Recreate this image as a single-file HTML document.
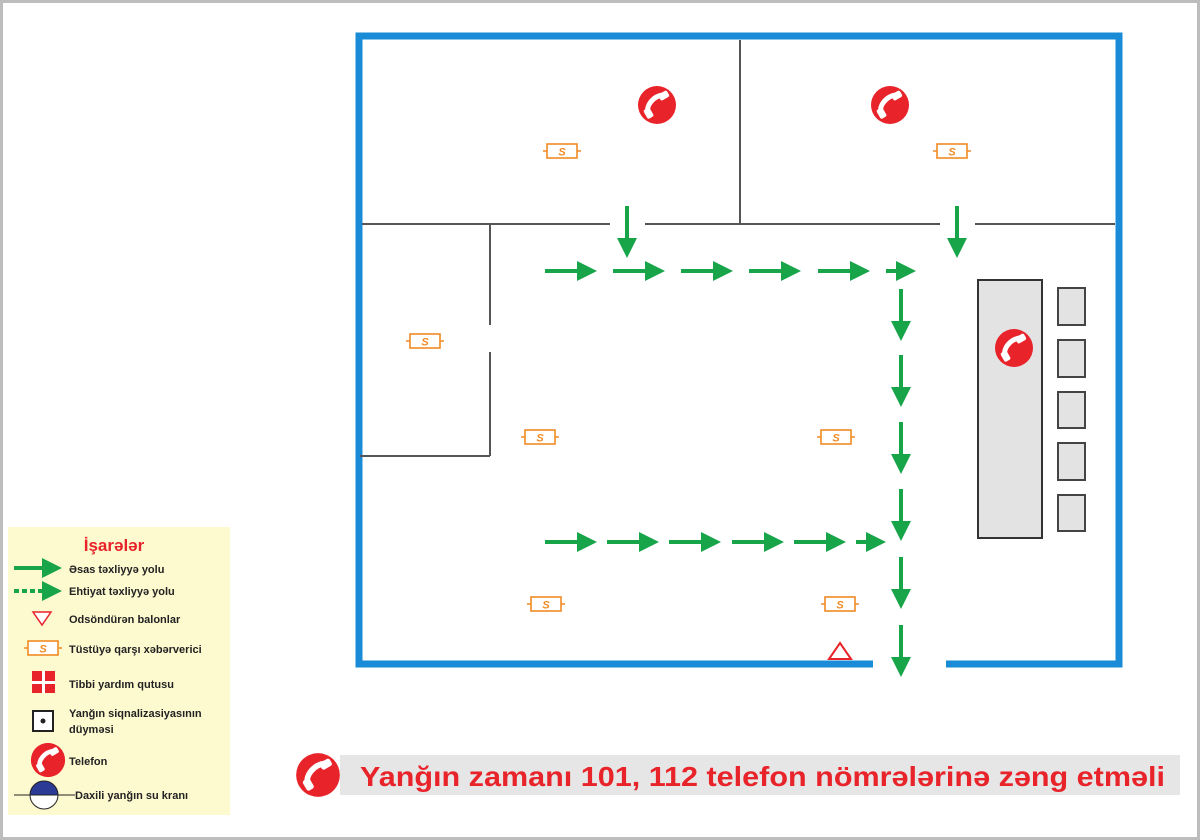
<!DOCTYPE html>
<html><head><meta charset="utf-8"><style>
html,body{margin:0;padding:0;background:#fff}
svg{display:block}
text{font-family:"Liberation Sans",Arial,sans-serif;font-weight:bold}
</style></head><body>
<svg width="1200" height="840" viewBox="0 0 1200 840" xmlns="http://www.w3.org/2000/svg">
<defs>
<g id="ph"><circle r="19" fill="#e8232a"/><path d="M-9,7 C-11,1 -4,-9 6,-10" stroke="#fff" stroke-width="5" fill="none" stroke-linecap="round"/><rect x="-12" y="3" width="7" height="10" rx="2" fill="#fff" transform="rotate(-30 -8 8)"/><rect x="2" y="-13" width="10" height="7" rx="2" fill="#fff" transform="rotate(-30 7 -9)"/></g>
<g id="sd"><line x1="-19" y1="0" x2="19" y2="0" stroke="#f08a24" stroke-width="1.5"/><rect x="-15" y="-7" width="30" height="14" fill="#fff" stroke="#f08a24" stroke-width="1.6"/><text x="0" y="4.5" font-size="11" fill="#f08a24" text-anchor="middle" font-style="italic" font-weight="normal">S</text></g>
<g id="ah"><line x1="0" y1="0" x2="34" y2="0" stroke="#18a54a" stroke-width="4"/><polygon points="32,-10 52,0 32,10" fill="#18a54a"/></g>
</defs>
<rect x="1.5" y="1.5" width="1197" height="837" fill="#fff" stroke="#bdbdbd" stroke-width="3"/>
<path d="M873,664 H359 V36 H1119 V664 H946" fill="none" stroke="#1a8bd6" stroke-width="7"/>
<g stroke="#555" stroke-width="2" fill="none">
<line x1="740" y1="40" x2="740" y2="224"/>
<line x1="362" y1="224" x2="610" y2="224"/>
<line x1="645" y1="224" x2="940" y2="224"/>
<line x1="975" y1="224" x2="1115" y2="224"/>
<line x1="490" y1="224" x2="490" y2="325"/>
<line x1="490" y1="352" x2="490" y2="456"/>
<line x1="360" y1="456" x2="490" y2="456"/>
</g>
<rect x="978" y="280" width="64" height="258" fill="#e3e3e3" stroke="#333" stroke-width="2"/>
<g fill="#e3e3e3" stroke="#444" stroke-width="2">
<rect x="1058" y="288" width="27" height="37"/><rect x="1058" y="340" width="27" height="37"/><rect x="1058" y="392" width="27" height="36"/><rect x="1058" y="443" width="27" height="37"/><rect x="1058" y="495" width="27" height="36"/>
</g>
<use href="#ph" x="657" y="105"/><use href="#ph" x="890" y="105"/><use href="#ph" x="1014" y="348"/>
<use href="#sd" x="562" y="151"/><use href="#sd" x="952" y="151"/><use href="#sd" x="425" y="341"/><use href="#sd" x="540" y="437"/><use href="#sd" x="836" y="437"/><use href="#sd" x="546" y="604"/><use href="#sd" x="840" y="604"/>
<use href="#ah" x="545" y="271"/><use href="#ah" x="613" y="271"/><use href="#ah" x="681" y="271"/><use href="#ah" x="749" y="271"/><use href="#ah" x="818" y="271"/>
<line x1="886" y1="271" x2="898" y2="271" stroke="#18a54a" stroke-width="4"/><polygon points="896,261 916,271 896,281" fill="#18a54a"/>
<use href="#ah" x="545" y="542"/><use href="#ah" x="607" y="542"/><use href="#ah" x="669" y="542"/><use href="#ah" x="732" y="542"/><use href="#ah" x="794" y="542"/>
<line x1="856" y1="542" x2="868" y2="542" stroke="#18a54a" stroke-width="4"/><polygon points="866,532 886,542 866,552" fill="#18a54a"/>
<use href="#ah" transform="translate(901,289) rotate(90)"/><use href="#ah" transform="translate(901,355) rotate(90)"/><use href="#ah" transform="translate(901,422) rotate(90)"/><use href="#ah" transform="translate(901,489) rotate(90)"/><use href="#ah" transform="translate(901,557) rotate(90)"/><use href="#ah" transform="translate(901,625) rotate(90)"/>
<use href="#ah" transform="translate(627,206) rotate(90)"/><use href="#ah" transform="translate(957,206) rotate(90)"/>
<polygon points="840,643 851,659 829,659" fill="#fff" stroke="#e8232a" stroke-width="2"/>
<rect x="8" y="527" width="222" height="288" fill="#fefad0"/>
<text x="114" y="551" font-size="17" fill="#e8232a" text-anchor="middle">İşarələr</text>
<line x1="14" y1="568" x2="46" y2="568" stroke="#18a54a" stroke-width="4"/><polygon points="42,558 62,568 42,578" fill="#18a54a"/>
<text x="69" y="573" font-size="11" fill="#222">Əsas təxliyyə yolu</text>
<line x1="14" y1="591" x2="46" y2="591" stroke="#18a54a" stroke-width="4" stroke-dasharray="5,3"/><polygon points="42,581 62,591 42,601" fill="#18a54a"/>
<text x="69" y="595" font-size="11" fill="#222">Ehtiyat təxliyyə yolu</text>
<polygon points="33,612 51,612 42,625" fill="#fff" stroke="#e8232a" stroke-width="1.5"/>
<text x="69" y="623" font-size="11" fill="#222">Odsöndürən balonlar</text>
<use href="#sd" x="43" y="648"/>
<text x="69" y="653" font-size="11" fill="#222">Tüstüyə qarşı xəbərverici</text>
<rect x="32" y="671" width="23" height="22" fill="#e8232a"/><rect x="42" y="671" width="3" height="22" fill="#fff"/><rect x="32" y="681" width="23" height="3" fill="#fff"/>
<text x="69" y="688" font-size="11" fill="#222">Tibbi yardım qutusu</text>
<rect x="33" y="711" width="20" height="20" fill="#fff" stroke="#222" stroke-width="2"/><circle cx="43" cy="721" r="2.5" fill="#222"/>
<text x="69" y="717" font-size="11" fill="#222">Yanğın siqnalizasiyasının</text>
<text x="69" y="733" font-size="11" fill="#222">düyməsi</text>
<use href="#ph" transform="translate(48,760) scale(0.9)"/>
<text x="69" y="765" font-size="11" fill="#222">Telefon</text>
<line x1="14" y1="795" x2="75" y2="795" stroke="#222" stroke-width="1"/>
<path d="M30,795 A14,14 0 0 1 58,795 Z" fill="#2b3a94" stroke="#222"/><path d="M30,795 A14,14 0 0 0 58,795 Z" fill="#fff" stroke="#222"/>
<text x="75" y="799" font-size="11" fill="#222">Daxili yanğın su kranı</text>
<rect x="340" y="755" width="840" height="40" fill="#e6e6e6"/>
<use href="#ph" transform="translate(318,775) scale(1.15)"/>
<text x="360" y="786" font-size="28" fill="#e8232a" textLength="805" lengthAdjust="spacingAndGlyphs">Yanğın zamanı 101, 112 telefon nömrələrinə zəng etməli</text>
</svg>
</body></html>
